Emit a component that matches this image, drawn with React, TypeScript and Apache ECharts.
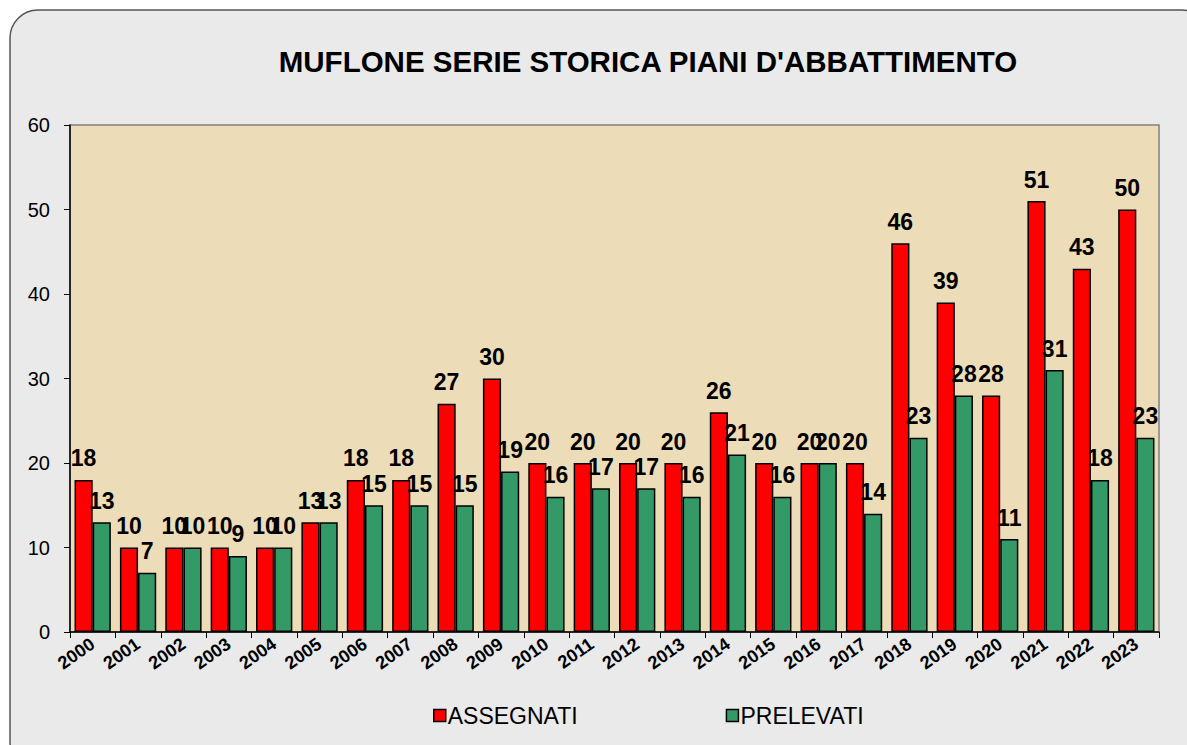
import React, { useEffect, useRef } from "react";
import * as echarts from "echarts";

const years = ["2000","2001","2002","2003","2004","2005","2006","2007","2008","2009","2010","2011","2012","2013","2014","2015","2016","2017","2018","2019","2020","2021","2022","2023"];
const assegnati = [18,10,10,10,10,13,18,18,27,30,20,20,20,20,26,20,20,20,46,39,28,51,43,50];
const prelevati = [13,7,10,9,10,13,15,15,15,19,16,17,17,16,21,16,20,14,23,28,11,31,18,23];
const yTicks = [0, 10, 20, 30, 40, 50, 60];

export default function App() {
  const ref = useRef<HTMLDivElement>(null);
  useEffect(() => {
    document.body.style.margin = "0";
    const chart = echarts.init(ref.current!, null, { renderer: "svg" });
    const font = "Liberation Sans, Arial, sans-serif";
    const lbl = {
      show: true,
      position: "top",
      distance: 10,
      fontFamily: font,
      fontSize: 23,
      fontWeight: "bold",
      color: "#000",
    };
    chart.setOption({
      animation: false,
      backgroundColor: "#ffffff",
      textStyle: { fontFamily: font },
      graphic: [
        {
          type: "rect",
          z: -10,
          shape: { x: 10, y: 10, width: 1200, height: 760, r: 28 },
          style: { fill: "#eaeaea", stroke: "#555555", lineWidth: 1.5 },
          silent: true,
        },
      ],
      title: {
        text: "MUFLONE SERIE STORICA PIANI D'ABBATTIMENTO",
        left: 643,
        textAlign: "center",
        top: 41,
        textStyle: { fontFamily: font, fontSize: 29.5, fontWeight: "bold", color: "#000" },
      },
      legend: {
        bottom: 13,
        left: 428,
        itemGap: 148,
        itemWidth: 12,
        itemHeight: 12,
        icon: "rect",
        textStyle: { fontFamily: font, fontSize: 23, color: "#000", padding: [0, 0, 0, -3] },
        data: [
          { name: "ASSEGNATI", itemStyle: { borderColor: "#000", borderWidth: 1.5 } },
          { name: "PRELEVATI", itemStyle: { borderColor: "#000", borderWidth: 1.5 } },
        ],
      },
      grid: {
        left: 70,
        right: 28,
        top: 125,
        bottom: 113,
        show: true,
        backgroundColor: "#eddcb8",
        borderColor: "#808080",
        borderWidth: 1.5,
      },
      xAxis: {
        type: "category",
        data: years,
        axisLine: { lineStyle: { color: "#000", width: 1.5 } },
        axisTick: { show: true, length: 6, lineStyle: { color: "#000" } },
        axisLabel: {
          rotate: 35,
          fontFamily: font,
          fontSize: 18,
          fontWeight: "bold",
          color: "#000",
          margin: 10,
        },
      },
      yAxis: {
        type: "value",
        min: yTicks[0],
        max: yTicks[yTicks.length - 1],
        interval: 10,
        axisLine: { show: true, lineStyle: { color: "#000", width: 1.5 } },
        axisTick: { show: true, length: 6, lineStyle: { color: "#000" } },
        splitLine: { show: false },
        axisLabel: { fontFamily: font, fontSize: 20, color: "#000", margin: 20 },
      },
      series: [
        {
          name: "ASSEGNATI",
          type: "bar",
          data: assegnati,
          barGap: "0%",
          barCategoryGap: "20%",
          itemStyle: { color: "#ff0000", borderColor: "#000", borderWidth: 1.5 },
          label: lbl,
        },
        {
          name: "PRELEVATI",
          type: "bar",
          data: prelevati,
          itemStyle: { color: "#339966", borderColor: "#000", borderWidth: 1.5 },
          label: lbl,
        },
      ],
    });
    return () => chart.dispose();
  }, []);
  return <div ref={ref} style={{ width: 1187, height: 745 }} />;
}
